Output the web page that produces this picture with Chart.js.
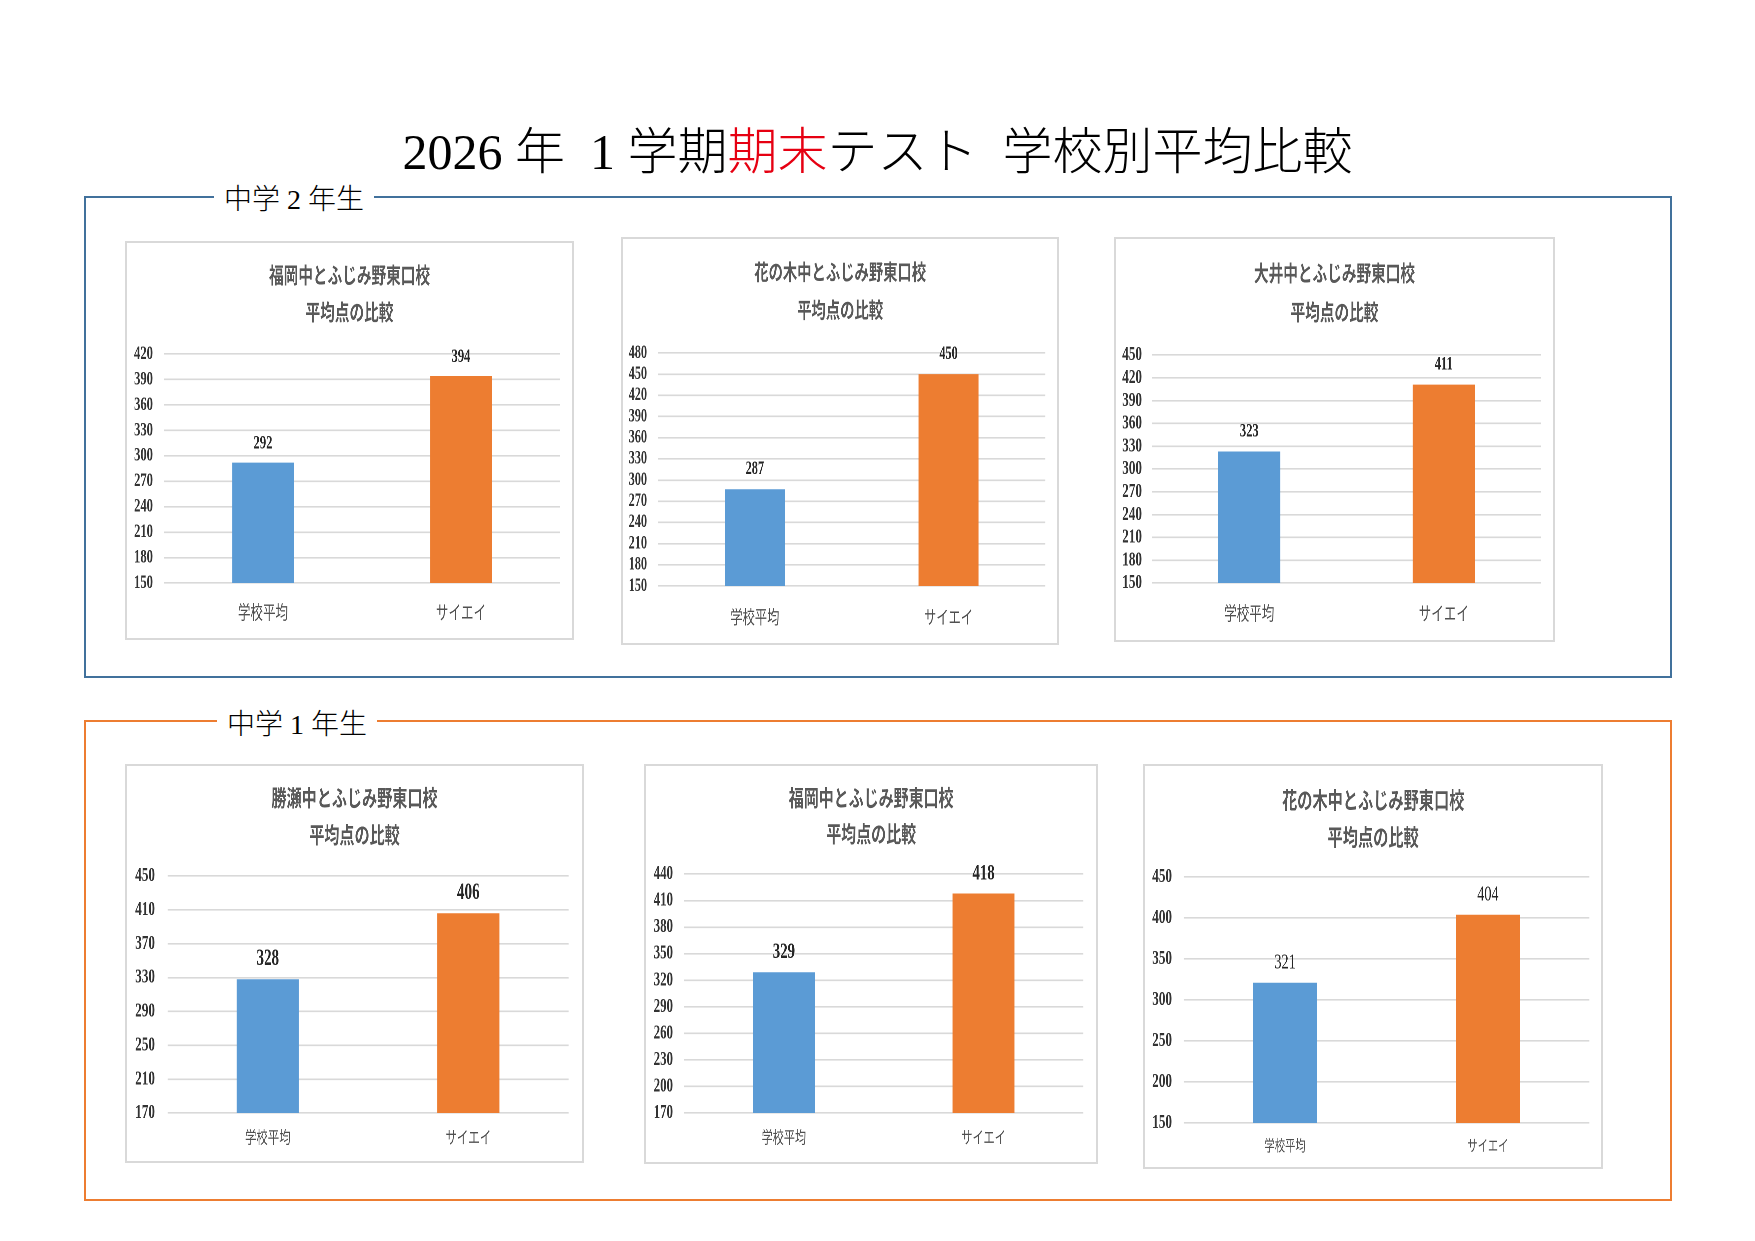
<!DOCTYPE html>
<html>
<head>
<meta charset="utf-8">
<script src="https://cdn.jsdelivr.net/npm/chart.js@4.4.1/dist/chart.umd.min.js"></script>
<style>
html,body{margin:0;padding:0;background:#fff;}
body{width:1755px;height:1241px;position:relative;overflow:hidden;}
.title{position:absolute;left:0;width:1755px;top:126px;text-align:center;font-family:"Liberation Serif","Noto Sans CJK JP",serif;font-weight:300;font-size:50px;line-height:52px;white-space:pre;color:#000;}
.title .red{color:#E60012;}
.frame{position:absolute;box-sizing:border-box;border:2px solid;}
.flabel{position:absolute;background:#fff;padding:0 10px;font-family:"Liberation Serif","Noto Sans CJK JP",serif;font-weight:300;font-size:28px;line-height:32px;white-space:pre;color:#000;}
.box{position:absolute;box-sizing:border-box;border:2px solid #D9D9D9;background:#fff;overflow:hidden;}
.inner{position:absolute;left:0;top:0;transform-origin:0 0;}
</style>
</head>
<body>
<div class="title" id="pageTitle"></div>
<div id="frames"></div>
<div id="charts"></div>
<script>
// ---------- data ----------
const pageTitleParts = ['2026 年\u20021 学期', '期末', 'テスト\u2002学校別平均比較'];
const sectionLabels = ['中学 2 年生', '中学 1 年生'];
const categories = ['学校平均', 'サイエイ'];
const chartTitles = [
  ['福岡中とふじみ野東口校', '平均点の比較'],
  ['花の木中とふじみ野東口校', '平均点の比較'],
  ['大井中とふじみ野東口校', '平均点の比較'],
  ['勝瀬中とふじみ野東口校', '平均点の比較'],
  ['福岡中とふじみ野東口校', '平均点の比較'],
  ['花の木中とふじみ野東口校', '平均点の比較']
];
const schoolAverage = [292, 287, 323, 328, 329, 321];
const saieiAverage  = [394, 450, 411, 406, 418, 404];
const axisMin  = [150, 150, 150, 170, 170, 150];
const axisMax  = [420, 480, 450, 450, 440, 450];
const axisStep = [30, 30, 30, 40, 30, 50];

// ---------- layout & style (kept separate from data) ----------
const colors = { school: '#5B9BD5', saiei: '#ED7D31', grid: '#D9D9D9', title: '#595959', cat: '#505050', tick: '#333333', value: '#262626' };
const frameLayout = [
  { rect: [85, 197, 1671, 677], color: '#41719C', labelLeft: 214, labelTop: 184 },
  { rect: [85, 721, 1671, 1200], color: '#ED7D31', labelLeft: 217, labelTop: 709 }
];
const chartLayout = [
  { box: [125, 241, 574, 640],  grid: [164, 354, 560, 583],   labelRight: 153,  t1: 275, lh: 37, catY: 612,  titleFs: 22.2, tickFs: 19.2, catFs: 19,   valFs: 19,   valWeight: 'bold',   valOffset: 19, bar: 0.31 },
  { box: [621, 237, 1059, 645], grid: [658, 353, 1045, 586],  labelRight: 647,  t1: 272, lh: 38, catY: 617,  titleFs: 21.7, tickFs: 18.5, catFs: 18.5, valFs: 18.5, valWeight: 'bold',   valOffset: 20, bar: 0.31 },
  { box: [1114, 237, 1555, 642],grid: [1152, 355, 1541, 583], labelRight: 1142, t1: 273, lh: 39, catY: 613,  titleFs: 22.2, tickFs: 20,   catFs: 19,   valFs: 19,   valWeight: 'bold',   valOffset: 20, bar: 0.32 },
  { box: [125, 764, 584, 1163], grid: [167.5, 876, 568.6, 1113], labelRight: 155, t1: 798, lh: 37, catY: 1137, titleFs: 22.9, tickFs: 20,   catFs: 17.3, valFs: 22.7, valWeight: 'bold',   valOffset: 20, bar: 0.31 },
  { box: [644, 764, 1098, 1164],grid: [684, 874, 1083, 1113], labelRight: 673,  t1: 798, lh: 36, catY: 1137, titleFs: 22.7, tickFs: 19.5, catFs: 16.8, valFs: 22.5, valWeight: 'bold',   valOffset: 20, bar: 0.31 },
  { box: [1143, 764, 1603, 1169],grid: [1183.6, 877, 1589, 1123], labelRight: 1172, t1: 800, lh: 37, catY: 1145, titleFs: 23, tickFs: 20,   catFs: 15.6, valFs: 21.6, valWeight: 'normal', valOffset: 20, bar: 0.315 }
];
const SX = 0.66;   // horizontal condensing of the pasted chart images
const BW = 2;      // chart box border width

// ---------- page title ----------
(function () {
  const t = document.getElementById('pageTitle');
  pageTitleParts.forEach((p, i) => {
    const s = document.createElement('span');
    s.textContent = p;
    if (i === 1) s.className = 'red';
    t.appendChild(s);
  });
})();

// ---------- section frames ----------
(function () {
  const host = document.getElementById('frames');
  frameLayout.forEach((f, i) => {
    const d = document.createElement('div');
    d.className = 'frame';
    const [l, t, r, b] = f.rect;
    d.style.left = (l - 1) + 'px';
    d.style.top = (t - 1) + 'px';
    d.style.width = (r - l + 2) + 'px';
    d.style.height = (b - t + 2) + 'px';
    d.style.borderColor = f.color;
    host.appendChild(d);
    const lab = document.createElement('div');
    lab.className = 'flabel';
    lab.textContent = sectionLabels[i];
    lab.style.left = f.labelLeft + 'px';
    lab.style.top = f.labelTop + 'px';
    host.appendChild(lab);
  });
})();

// ---------- value label plugin ----------
const valueLabels = {
  id: 'valueLabels',
  afterDatasetsDraw(chart, args, opts) {
    const ctx = chart.ctx;
    const meta = chart.getDatasetMeta(0);
    const data = chart.data.datasets[0].data;
    ctx.save();
    ctx.font = opts.weight + ' ' + opts.size + 'px "Liberation Serif"';
    ctx.fillStyle = opts.color;
    ctx.textAlign = 'center';
    ctx.textBaseline = 'middle';
    meta.data.forEach((el, i) => {
      ctx.fillText(String(data[i]), el.x, el.y - opts.offset);
    });
    ctx.restore();
  }
};

// ---------- charts ----------
const host = document.getElementById('charts');
chartLayout.forEach((Lo, i) => {
  const [L, T, R, B] = Lo.box;
  const [gl, gt, gr, gb] = Lo.grid;
  const ox = L + BW, oy = T + BW;
  const iw = R - L - 2 * BW, ih = B - T - 2 * BW;
  const cw = iw / SX, ch = ih;
  const X = x => (x - ox) / SX;

  const box = document.createElement('div');
  box.className = 'box';
  box.style.left = L + 'px';
  box.style.top = T + 'px';
  box.style.width = (R - L) + 'px';
  box.style.height = (B - T) + 'px';
  const inner = document.createElement('div');
  inner.className = 'inner';
  inner.style.width = cw + 'px';
  inner.style.height = ch + 'px';
  inner.style.transform = 'scaleX(' + SX + ')';
  const canvas = document.createElement('canvas');
  inner.appendChild(canvas);
  box.appendChild(inner);
  host.appendChild(box);

  const rightGap = cw - X(gr);
  const yAxisWidth = X(gl);
  const yTickPad = (gl - Lo.labelRight) / SX;
  const titlePadTop = (Lo.t1 - oy) - Lo.lh / 2;
  const titlePadBottom = (gt - oy) - titlePadTop - 2 * Lo.lh;
  const xAxisHeight = ch - (gb - oy);
  const xTickPad = (Lo.catY - gb) - 0.6 * Lo.catFs;

  new Chart(canvas, {
    type: 'bar',
    data: {
      labels: categories,
      datasets: [{
        data: [schoolAverage[i], saieiAverage[i]],
        backgroundColor: [colors.school, colors.saiei],
        borderWidth: 0,
        barPercentage: Lo.bar,
        categoryPercentage: 1.0
      }]
    },
    plugins: [valueLabels],
    options: {
      responsive: true,
      maintainAspectRatio: false,
      animation: false,
      devicePixelRatio: 2,
      layout: { padding: 0 },
      plugins: {
        legend: { display: false },
        tooltip: { enabled: false },
        title: {
          display: true,
          text: chartTitles[i],
          color: colors.title,
          font: { family: '"Noto Sans CJK JP"', size: Lo.titleFs, weight: 'bold', lineHeight: Lo.lh / Lo.titleFs },
          padding: { top: titlePadTop, bottom: titlePadBottom }
        },
        valueLabels: { size: Lo.valFs, weight: Lo.valWeight, color: colors.value, offset: Lo.valOffset }
      },
      scales: {
        x: {
          grid: { display: false, drawTicks: false },
          border: { display: false },
          ticks: { color: colors.cat, padding: xTickPad, font: { family: '"Noto Sans CJK JP"', size: Lo.catFs, lineHeight: 1.2 } },
          afterFit: s => { s.height = xAxisHeight; }
        },
        y: {
          min: axisMin[i],
          max: axisMax[i],
          grid: { color: colors.grid, lineWidth: 1.6, drawTicks: false },
          border: { display: false },
          ticks: { stepSize: axisStep[i], autoSkip: false, color: colors.tick, padding: yTickPad, font: { family: '"Liberation Serif"', size: Lo.tickFs, weight: 'bold' } },
          afterFit: s => { s.width = yAxisWidth; }
        },
        // empty spacer on the right so the plot area ends where the reference grid ends
        spacer: {
          type: 'linear',
          position: 'right',
          display: true,
          grid: { display: false, drawTicks: false },
          border: { display: false },
          ticks: { display: false },
          afterFit: s => { s.width = rightGap; }
        }
      }
    }
  });
});
</script>
</body>
</html>
